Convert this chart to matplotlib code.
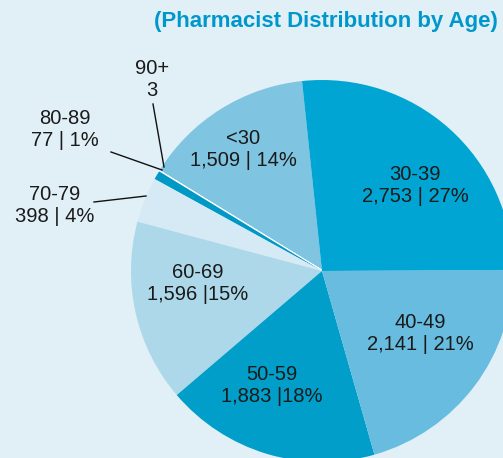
import numpy as np
import matplotlib
matplotlib.use("Agg")
import matplotlib.pyplot as plt

plt.rcParams['font.family'] = ['Liberation Sans', 'DejaVu Sans']

# slices, counter-clockwise starting at the top
ages = ['<30', '90+', '80-89', '70-79', '60-69', '50-59', '40-49', '30-39']
counts = [1509, 3, 77, 398, 1596, 1883, 2141, 2753]
labels = ['<30\n1,509 | 14%', '90+\n3', '80-89\n77 | 1%', '70-79\n398 | 4%',
          '60-69\n1,596 |15%', '50-59\n1,883 |18%', '40-49\n2,141 | 21%',
          '30-39\n2,753 | 27%']
colors = ['#7fc4e1', '#ffffff', '#0099c6', '#d5eaf5', '#acd8ea', '#009ec9',
          '#67bce0', '#00a5d3']

W, H = 503, 458
bg = '#e1eff7'
fig = plt.figure(figsize=(W / 100, H / 100), dpi=100, facecolor=bg)
ax = fig.add_axes([0, 0, 1, 1])
ax.set_facecolor(bg)

cx, cy, r = 322, H - 271, 191
wedges, _ = ax.pie(counts, colors=colors, startangle=96, counterclock=True,
                   center=(cx, cy), radius=r,
                   wedgeprops=dict(linewidth=0))
wedges[1].set_edgecolor('white')
wedges[1].set_linewidth(1.6)

# label positions in pixels (x, y from top)
label_pos = {'<30': (243, 149), '90+': (152, 80), '80-89': (65, 130),
             '70-79': (55, 206), '60-69': (198, 283), '50-59': (272, 385),
             '40-49': (420, 334), '30-39': (415, 185)}
for a, lab in zip(ages, labels):
    px, py = label_pos[a]
    ax.text(px, H - py, lab, ha='center', va='center', fontsize=14.5,
            color='#1a1a1a', linespacing=1.2)

# leader lines for the small slices
leaders = [((153, 104), (164, 167)), ((111, 152), (162, 170)), ((94, 202), (146, 196))]
for (x0, y0), (x1, y1) in leaders:
    ax.plot([x0, x1], [H - y0, H - y1], color='#111111', lw=1)

ax.text(498, H - 22, '(Pharmacist Distribution by Age)', ha='right', va='center',
        fontsize=16, fontweight='bold', color='#0098cc')

ax.set_xlim(0, W)
ax.set_ylim(0, H)
ax.set_aspect('equal')
ax.axis('off')
fig.savefig('out.png', dpi=100, facecolor=bg)
